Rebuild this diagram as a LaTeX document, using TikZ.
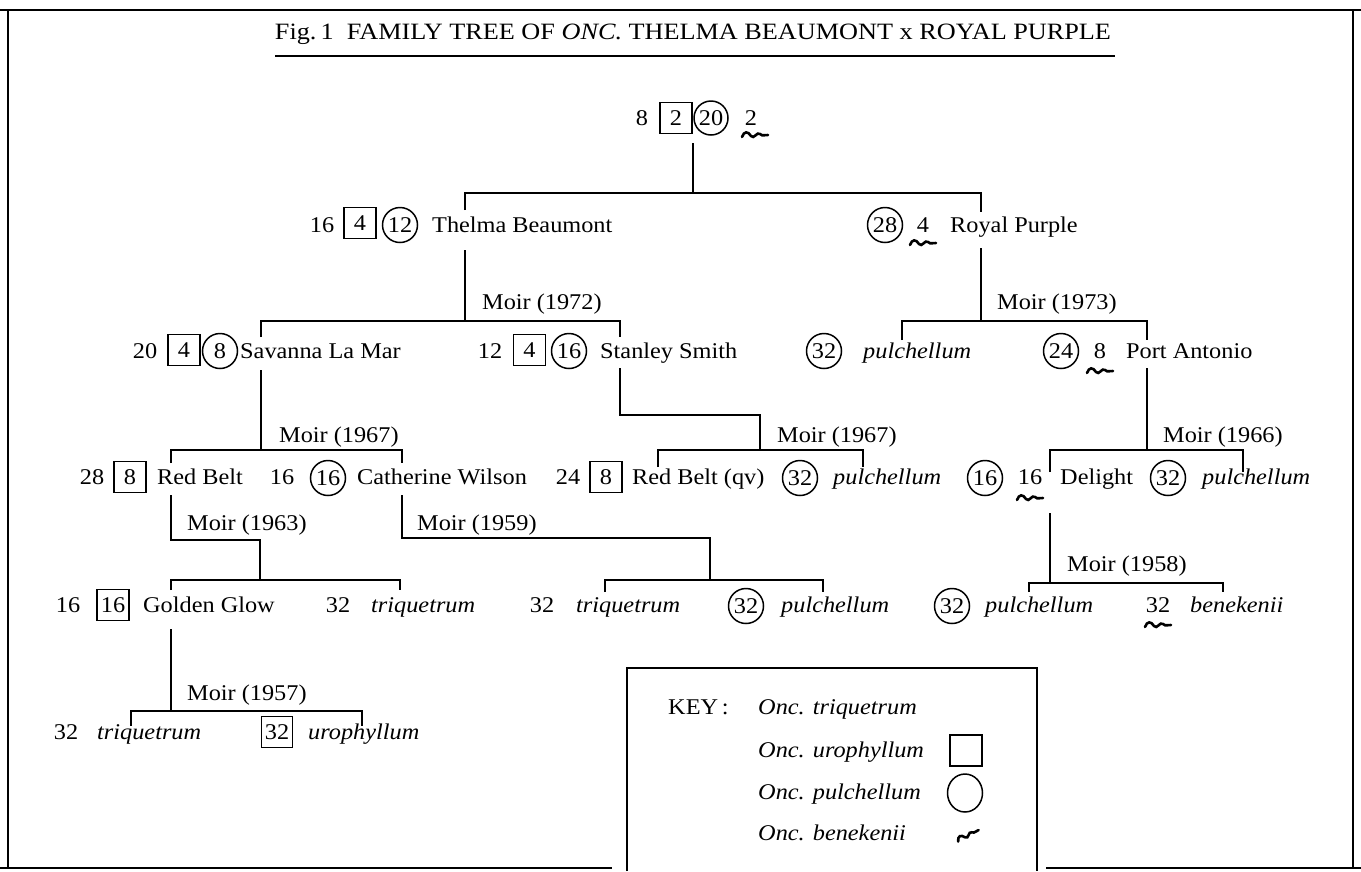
\documentclass[tikz,border=0pt]{standalone}
\usepackage{fontspec}
\setmainfont{Liberation Serif}[FakeStretch=1.08]
\usepackage{graphicx}
\usetikzlibrary{shapes.geometric}
\begin{document}
\begin{tikzpicture}[x=1pt,y=-1pt,
  every node/.style={inner sep=0pt, font=\fontsize{22.5pt}{25pt}\selectfont},
  ln/.style={line width=1.8pt},
  frame/.style={line width=2.6pt},
  sq/.style={draw, line width=1.5pt, minimum width=32pt, minimum height=31pt},
  ci/.style={draw, circle, line width=1.5pt, minimum size=35pt},
  lab/.style={anchor=base west},
  num/.style={anchor=base},
  it/.style={anchor=base west, font=\fontsize{22.5pt}{25pt}\selectfont\itshape},
  squigline/.style={line width=2.6pt, line cap=round},
  pics/sqg/.style={code={\draw[squigline] (-13,2) .. controls (-11,-4) and (-7,-4) .. (-4,1) .. controls (-1,5) and (2,-4) .. (5,-1) .. controls (8,2) and (10,-1) .. (13,0);}}
]
\useasboundingbox (0,0) rectangle (1361,871);
% frame
\draw[frame] (0,10) -- (1361,10);
\draw[line width=1.6pt] (8,10) -- (8,868);
\draw[line width=1.6pt] (1353,10) -- (1353,868);
\draw[frame] (0,868) -- (612,868);
\draw[frame] (1046,868) -- (1361,868);
% title
\node[anchor=base] (title) at (693,39) {\resizebox{836pt}{15.5pt}{Fig.\,1\ \ FAMILY TREE OF \textit{ONC.} THELMA BEAUMONT x ROYAL PURPLE}};
\draw[line width=2.5pt] (275,56) -- (1115,56);

% row 0
\node[num] (n0a) at (642,125.5) {8};
\node[sq] (n0b) at (676,118) {2};
\node[ci, minimum size=34pt] (n0c) at (711,118) {20};
\node[num] (n0d) at (751,125.5) {2};
\pic at (755,135) {sqg};
\coordinate (r0) at (693,143); \coordinate (r1) at (693,193);
\coordinate (rl) at (465,193); \coordinate (rr) at (981,193);
\coordinate (rld) at (465,210); \coordinate (rrd) at (981,212);
\draw[ln] (r0) -- (r1);
\draw[ln] (rld) -- (rl) -- (rr) -- (rrd);

% row 1
\node[num] (t1) at (322,232.5) {16};
\node[sq] (t2) at (360,223) {4};
\node[ci] (t3) at (400,225) {12};
\node[lab] (thelma) at (432,232.5) {Thelma Beaumont};
\node[ci] (p1) at (885,225) {28};
\node[num] (p2) at (923,232.5) {4};
\pic at (923,243) {sqg};
\node[lab] (royal) at (950,232.5) {Royal Purple};

\coordinate (th0) at (465,250); \coordinate (th1) at (465,321);
\coordinate (rp0) at (981,248); \coordinate (rp1) at (981,321);
\draw[ln] (th0) -- (th1);
\draw[ln] (rp0) -- (rp1);
\node[lab] (m72) at (482,309.5) {Moir (1972)};
\node[lab] (m73) at (997,309.5) {Moir (1973)};
\coordinate (a1) at (261,337); \coordinate (a2) at (261,321);
\coordinate (a3) at (620,321); \coordinate (a4) at (620,337);
\draw[ln] (a1) -- (a2) -- (a3) -- (a4);
\coordinate (b1) at (902,340); \coordinate (b2) at (902,321);
\coordinate (b3) at (1147,321); \coordinate (b4) at (1147,340);
\draw[ln] (b1) -- (b2) -- (b3) -- (b4);

% row 2
\node[num] (s1) at (145,358.5) {20};
\node[sq] (s2) at (184,350) {4};
\node[ci] (s3) at (220,351) {8};
\node[lab] (savanna) at (240,358.5) {Savanna La Mar};
\node[num] (ss1) at (490,358.5) {12};
\node[sq] (ss2) at (529.5,350) {4};
\node[ci] (ss3) at (569,351) {16};
\node[lab] (stanley) at (600,358.5) {Stanley Smith};
\node[ci] (pa1) at (824,351) {32};
\node[it] (pa2) at (863,358.5) {pulchellum};
\node[ci] (pa3) at (1061,351) {24};
\node[num] (pa4) at (1100,358.5) {8};
\pic at (1100,371) {sqg};
\node[lab] (port) at (1126,358.5) {Port Antonio};

\coordinate (sv0) at (261,370); \coordinate (sv1) at (261,450);
\draw[ln] (sv0) -- (sv1);
\coordinate (st0) at (620,368); \coordinate (st1) at (620,415);
\coordinate (st2) at (760,415); \coordinate (st3) at (760,450);
\draw[ln] (st0) -- (st1) -- (st2) -- (st3);
\coordinate (po0) at (1147,368); \coordinate (po1) at (1147,450);
\draw[ln] (po0) -- (po1);
\node[lab] (m67a) at (279,442.5) {Moir (1967)};
\node[lab] (m67b) at (777,442.5) {Moir (1967)};
\node[lab] (m66) at (1163,442.5) {Moir (1966)};
\coordinate (c1) at (171,463); \coordinate (c2) at (171,450);
\coordinate (c3) at (402,450); \coordinate (c4) at (402,463);
\draw[ln] (c1) -- (c2) -- (c3) -- (c4);
\coordinate (d1) at (658,467); \coordinate (d2) at (658,450);
\coordinate (d3) at (863,450); \coordinate (d4) at (863,467);
\draw[ln] (d1) -- (d2) -- (d3) -- (d4);
\coordinate (e1) at (1050,472); \coordinate (e2) at (1050,450);
\coordinate (e3) at (1243,450); \coordinate (e4) at (1243,472);
\draw[ln] (e1) -- (e2) -- (e3) -- (e4);

% row 3
\node[num] (rb1) at (92,484.5) {28};
\node[sq] (rb2) at (130,477) {8};
\node[lab] (redbelt) at (157,484.5) {Red Belt};
\node[num] (cw1) at (282,484.5) {16};
\node[ci] (cw2) at (328,478) {16};
\node[lab] (cath) at (357,484.5) {Catherine Wilson};
\node[num] (rq1) at (568,484.5) {24};
\node[sq] (rq2) at (606,477) {8};
\node[lab] (redqv) at (632,484.5) {Red Belt (qv)};
\node[ci] (pu1) at (800,478) {32};
\node[it] (pu2) at (833,484.5) {pulchellum};
\node[ci] (dl1) at (985,478) {16};
\node[num] (dl2) at (1030,484.5) {16};
\pic at (1030,498) {sqg};
\node[lab] (delight) at (1060,484.5) {Delight};
\node[ci] (pv1) at (1168,478) {32};
\node[it] (pv2) at (1202,484.5) {pulchellum};

\coordinate (f0) at (171,495); \coordinate (f1) at (171,540);
\coordinate (f2) at (260,540); \coordinate (f3) at (260,580);
\draw[ln] (f0) -- (f1) -- (f2) -- (f3);
\coordinate (g0) at (402,495); \coordinate (g1) at (402,538);
\coordinate (g2) at (710,538); \coordinate (g3) at (710,580);
\draw[ln] (g0) -- (g1) -- (g2) -- (g3);
\coordinate (h0) at (1050,513); \coordinate (h1) at (1050,583);
\draw[ln] (h0) -- (h1);
\node[lab] (m63) at (187,530.5) {Moir (1963)};
\node[lab] (m59) at (417,530.5) {Moir (1959)};
\node[lab] (m58) at (1067,571.5) {Moir (1958)};
\coordinate (i1) at (171,590); \coordinate (i2) at (171,580);
\coordinate (i3) at (400,580); \coordinate (i4) at (400,590);
\draw[ln] (i1) -- (i2) -- (i3) -- (i4);
\coordinate (j1) at (605,592); \coordinate (j2) at (605,580);
\coordinate (j3) at (823,580); \coordinate (j4) at (823,592);
\draw[ln] (j1) -- (j2) -- (j3) -- (j4);
\coordinate (k1) at (1029,592); \coordinate (k2) at (1029,583);
\coordinate (k3) at (1223,583); \coordinate (k4) at (1223,592);
\draw[ln] (k1) -- (k2) -- (k3) -- (k4);

% row 4
\node[num] (gg1) at (68,612.5) {16};
\node[sq, minimum width=32pt] (gg2) at (113,605) {16};
\node[lab] (golden) at (143,612.5) {Golden Glow};
\node[num] (tq1) at (338,612.5) {32};
\node[it] (tq2) at (371,612.5) {triquetrum};
\node[num] (tr1) at (542,612.5) {32};
\node[it] (tr2) at (576,612.5) {triquetrum};
\node[ci] (pc1) at (746,606) {32};
\node[it] (pc2) at (781,612.5) {pulchellum};
\node[ci] (pd1) at (952,606) {32};
\node[it] (pd2) at (985,612.5) {pulchellum};
\node[num] (bk1) at (1158,612.5) {32};
\pic at (1158,625) {sqg};
\node[it] (bk2) at (1190,612.5) {benekenii};

\coordinate (l0) at (171,629); \coordinate (l1) at (171,711);
\draw[ln] (l0) -- (l1);
\node[lab] (m57) at (187,700.5) {Moir (1957)};
\coordinate (o1) at (131,726); \coordinate (o2) at (131,711);
\coordinate (o3) at (362,711); \coordinate (o4) at (362,726);
\draw[ln] (o1) -- (o2) -- (o3) -- (o4);

% row 5
\node[num] (u1) at (66,739.5) {32};
\node[it] (u2) at (97,739.5) {triquetrum};
\node[sq, minimum width=31pt] (u3) at (277,732) {32};
\node[it] (u4) at (308,739.5) {urophyllum};

% key
\draw[line width=1.6pt] (627,871) -- (627,668) -- (1037,668) -- (1037,871);
\node[lab] (key) at (668,714.5) {KEY\,:};
\node[it] (k1t) at (758,714.5) {Onc. triquetrum};
\node[it] (k2t) at (758,757.5) {Onc. urophyllum};
\node[sq] (k2s) at (966,750.5) {};
\node[it] (k3t) at (758,799.5) {Onc. pulchellum};
\node[draw, ellipse, line width=1.5pt, minimum width=35pt, minimum height=38pt] (k3c) at (965,793) {};
\node[it] (k4t) at (758,840.5) {Onc. benekenii};
\pic[rotate=25, scale=0.9] at (968,835) {sqg};
\end{tikzpicture}
\end{document}
